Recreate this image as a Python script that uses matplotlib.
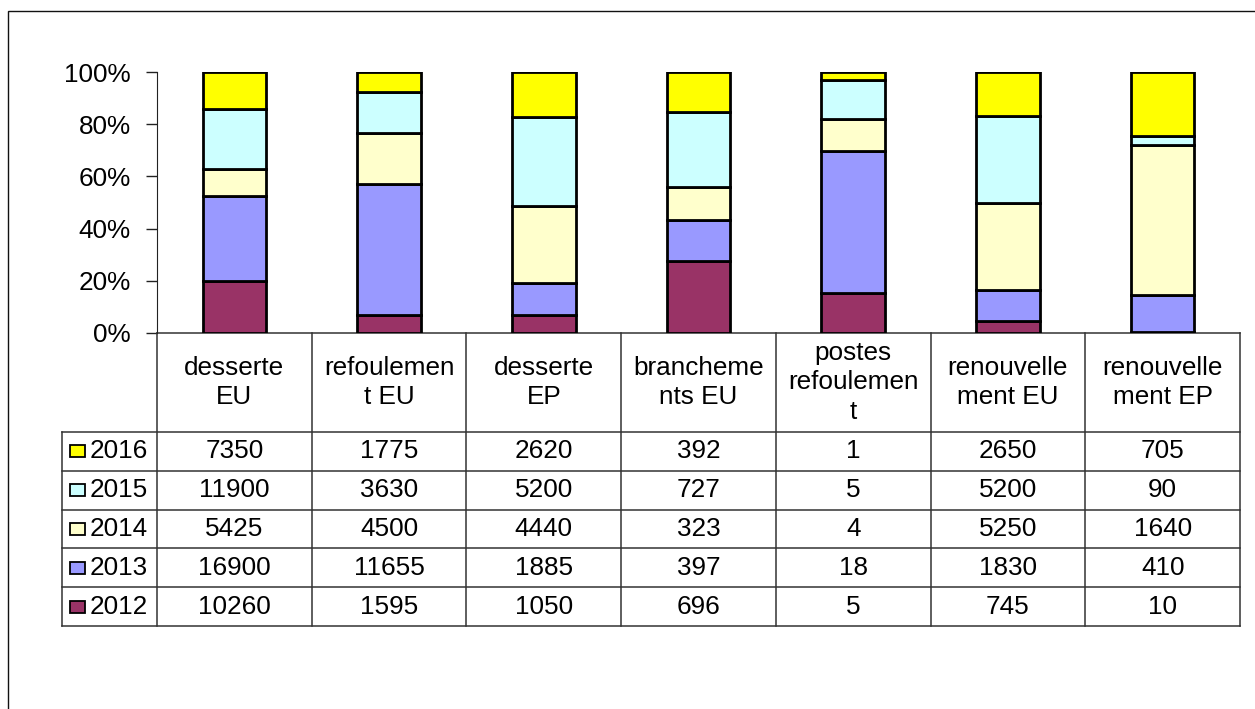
import matplotlib
matplotlib.use("Agg")
import matplotlib.pyplot as plt
import matplotlib.patches as patches
from matplotlib.transforms import blended_transform_factory
import numpy as np

plt.rcParams['font.family'] = ['Liberation Sans', 'DejaVu Sans']

# donnees
categories = ["desserte\nEU", "refoulemen\nt EU", "desserte\nEP", "brancheme\nnts EU",
              "postes\nrefoulemen\nt", "renouvelle\nment EU", "renouvelle\nment EP"]
years = ["2012", "2013", "2014", "2015", "2016"]
v2012 = [10260, 1595, 1050, 696, 5, 745, 10]
v2013 = [16900, 11655, 1885, 397, 18, 1830, 410]
v2014 = [5425, 4500, 4440, 323, 4, 5250, 1640]
v2015 = [11900, 3630, 5200, 727, 5, 5200, 90]
v2016 = [7350, 1775, 2620, 392, 1, 2650, 705]
colors = ["#993366", "#9999FF", "#FFFFCC", "#CCFFFF", "#FFFF00"]

series = np.array([v2012, v2013, v2014, v2015, v2016], dtype=float)
totals = series.sum(axis=0)
pct = series / totals * 100

W, H = 1255, 709
FS = 18.8
fig = plt.figure(figsize=(W / 100, H / 100), dpi=100)

# cadre exterieur (coupe a droite et en bas)
fig.patches.append(patches.Rectangle((7.5 / W, -0.05), 1.2, (H - 11) / H + 0.05,
                                     transform=fig.transFigure, fill=False,
                                     edgecolor="#111111", linewidth=1.0))

ax = fig.add_axes([157 / W, 1 - 333 / H, (1240 - 157) / W, (333 - 72) / H])
x = np.arange(len(categories))
bottom = np.zeros(len(categories))
for i, yr in enumerate(years):
    ax.bar(x, pct[i], 0.41, bottom=bottom, color=colors[i], edgecolor="black",
           linewidth=2.0, zorder=3)
    bottom += pct[i]

ax.set_xlim(-0.5, len(categories) - 0.5)
ax.set_ylim(0, 100)
ax.set_yticks(range(0, 101, 20))
ax.set_yticklabels([f"{t}%" for t in range(0, 101, 20)], fontsize=FS)
ax.tick_params(axis="y", direction="out", length=8, width=1, pad=11, color="#222222")
ax.tick_params(axis="x", bottom=False, labelbottom=False)
for s in ["top", "right", "bottom"]:
    ax.spines[s].set_visible(False)
ax.spines["left"].set_color("#222222")

# tableau de donnees
tr = blended_transform_factory(ax.transData, ax.transAxes)
hdr = 99 / 261
rowh = 38.8 / 261
lab_w = 95 / 154.7
x0 = -0.5
x1 = len(categories) - 0.5
ybot = -(hdr + rowh * len(years))
lc = "#333333"
lw = 1.1

ax.plot([x0, x1], [0, 0], transform=tr, color=lc, lw=lw, clip_on=False)
for k in range(len(categories) + 1):
    ax.plot([x0 + k, x0 + k], [0, ybot], transform=tr, color=lc, lw=lw, clip_on=False)
ax.plot([x0 - lab_w, x0 - lab_w], [-hdr, ybot], transform=tr, color=lc, lw=lw, clip_on=False)
for r in range(len(years) + 1):
    yy = -hdr - r * rowh
    ax.plot([x0 - lab_w, x1], [yy, yy], transform=tr, color=lc, lw=lw, clip_on=False)

for k, c in enumerate(categories):
    ax.text(k, -hdr / 2, c, transform=tr, ha="center", va="center", fontsize=FS,
            linespacing=1.28, clip_on=False)

for r, i in enumerate(range(len(years) - 1, -1, -1)):
    yc = -hdr - (r + 0.5) * rowh
    for k in range(len(categories)):
        ax.text(k, yc, f"{int(series[i, k])}", transform=tr, ha="center", va="center",
                fontsize=FS, clip_on=False)
    # carre de legende
    ax.add_patch(patches.Rectangle((x0 - lab_w + 0.05, yc - 0.023), 0.097, 0.046,
                                   transform=tr, facecolor=colors[i], edgecolor="black",
                                   linewidth=1.3, clip_on=False))
    ax.text(x0 - lab_w + 0.18, yc, years[i], transform=tr, ha="left", va="center",
            fontsize=FS, clip_on=False)

fig.savefig("out.png", dpi=100)
